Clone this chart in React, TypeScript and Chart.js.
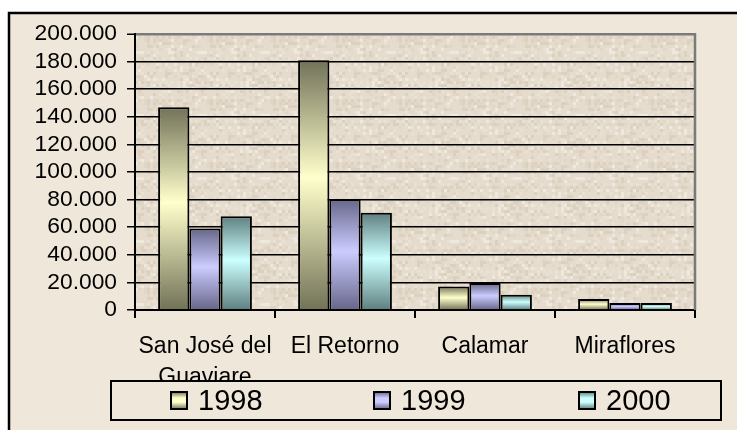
import React, { useEffect, useRef } from "react";
import { Chart, registerables } from "chart.js";

Chart.register(...registerables);

const categories: (string | string[])[] = [["San José del", "Guaviare"], "El Retorno", "Calamar", "Miraflores"];
const years = ["1998", "1999", "2000"];
const values1998 = [147000, 181000, 17000, 8000];
const values1999 = [59000, 80500, 19500, 5000];
const values2000 = [68000, 70500, 11000, 5000];
const yTicksMax = 200000;
const yTickStep = 20000;

const darkColors = ["#727258", "#66668a", "#5f7f7f"];
const lightColors = ["#ffffcc", "#ccccff", "#ccffff"];

const FONT = "'Liberation Sans', Arial, sans-serif";

function fmt(v: number): string {
  return String(v).replace(/\B(?=(\d{3})+(?!\d))/g, ".");
}

function hash(i: number, j: number): number {
  const s = Math.sin(i * 12.9898 + j * 78.233) * 43758.5453;
  return s - Math.floor(s);
}

let texture: HTMLCanvasElement | null = null;
function getTexture(): HTMLCanvasElement {
  if (texture) return texture;
  const c = document.createElement("canvas");
  c.width = 63;
  c.height = 63;
  const g = c.getContext("2d")!;
  const cell = 3;
  for (let i = 0; i < 21; i++) {
    for (let j = 0; j < 21; j++) {
      const r = hash(i, j);
      let col = "#e5dccd";
      if (r < 0.15) col = "#dcd1bf";
      else if (r < 0.28) col = "#e1d7c6";
      else if (r > 0.92) col = "#eee8de";
      else if (r > 0.82) col = "#e9e1d5";
      g.fillStyle = col;
      g.fillRect(i * cell, j * cell, cell, cell);
    }
  }
  texture = c;
  return c;
}

function barGradient(idx: number) {
  return (ctx: any) => {
    const chart = ctx.chart;
    if (ctx.type !== "data" || !chart.chartArea) return lightColors[idx];
    const y = chart.scales.y;
    const top = y.getPixelForValue(ctx.raw);
    const bottom = y.getPixelForValue(0);
    if (!isFinite(top) || !isFinite(bottom) || Math.abs(bottom - top) < 1) return lightColors[idx];
    const g = chart.ctx.createLinearGradient(0, top, 0, bottom);
    g.addColorStop(0, darkColors[idx]);
    g.addColorStop(0.47, lightColors[idx]);
    g.addColorStop(1, darkColors[idx]);
    return g;
  };
}

const backgroundPlugin = {
  id: "bgPlugin",
  beforeDraw(chart: any) {
    const { ctx, chartArea } = chart;
    ctx.save();
    ctx.fillStyle = "#ffffff";
    ctx.fillRect(0, 0, chart.width, chart.height);
    ctx.fillStyle = "#efe7d9";
    ctx.fillRect(9, 13, chart.width, chart.height);
    ctx.strokeStyle = "#000";
    ctx.lineWidth = 2.5;
    ctx.strokeRect(9, 13, chart.width + 20, chart.height + 20);
    const pat = ctx.createPattern(getTexture(), "repeat");
    ctx.fillStyle = pat || "#e5dccd";
    ctx.fillRect(chartArea.left, chartArea.top, chartArea.right - chartArea.left, chartArea.bottom - chartArea.top);
    ctx.restore();
  },
  afterDatasetsDraw(chart: any) {
    const { ctx, chartArea } = chart;
    ctx.save();
    ctx.strokeStyle = "#7a7a7a";
    ctx.lineWidth = 2.5;
    ctx.beginPath();
    ctx.moveTo(chartArea.right, chartArea.top - 1);
    ctx.lineTo(chartArea.right, chartArea.bottom);
    ctx.stroke();
    ctx.restore();
  },
};

const legendPlugin = {
  id: "boxLegend",
  afterDraw(chart: any) {
    const { ctx } = chart;
    const left = 111;
    const top = 381;
    const right = 721;
    const bottom = 420;
    ctx.save();
    ctx.fillStyle = "#efe7d9";
    ctx.fillRect(left, top, right - left, bottom - top);
    ctx.strokeStyle = "#000";
    ctx.lineWidth = 2;
    ctx.strokeRect(left, top, right - left, bottom - top);
    const starts = [171, 374, 579];
    chart.data.datasets.forEach((ds: any, i: number) => {
      const x = starts[i];
      const my = 392;
      const mh = 17;
      const mw = 16;
      const g = ctx.createLinearGradient(0, my, 0, my + mh);
      g.addColorStop(0, darkColors[i]);
      g.addColorStop(0.35, lightColors[i]);
      g.addColorStop(0.6, lightColors[i]);
      g.addColorStop(1, darkColors[i]);
      ctx.fillStyle = g;
      ctx.fillRect(x, my, mw, mh);
      ctx.strokeStyle = "#000";
      ctx.lineWidth = 2;
      ctx.strokeRect(x, my, mw, mh);
      ctx.fillStyle = "#000";
      ctx.font = `29px ${FONT}`;
      ctx.textBaseline = "alphabetic";
      ctx.textAlign = "left";
      ctx.fillText(ds.label, x + 27, 410);
    });
    ctx.restore();
  },
};

export default function App() {
  const ref = useRef<HTMLCanvasElement>(null);
  useEffect(() => {
    if (!ref.current) return;
    const datasets = [values1998, values1999, values2000].map((vals, i) => ({
      label: years[i],
      data: vals,
      backgroundColor: barGradient(i),
      borderColor: "#000",
      borderWidth: 2,
      borderSkipped: "start" as const,
      categoryPercentage: 0.67,
      barPercentage: 1.0,
    }));
    const chart = new Chart(ref.current, {
      type: "bar",
      data: { labels: categories, datasets },
      plugins: [backgroundPlugin, legendPlugin],
      options: {
        animation: false,
        responsive: false,
        devicePixelRatio: 1,
        layout: { padding: { top: 34, right: 42, left: 0, bottom: 0 } },
        plugins: {
          legend: { display: false },
          tooltip: { enabled: false },
          title: { display: false },
        },
        scales: {
          x: {
            grid: {
              display: true,
              drawOnChartArea: false,
              drawTicks: true,
              tickLength: 8,
              color: "#000",
              lineWidth: 2,
              offset: true,
            },
            border: { display: true, color: "#000", width: 2 },
            ticks: {
              color: "#000",
              font: { family: FONT, size: 23, lineHeight: 1.35 },
              padding: 13,
              maxRotation: 0,
              autoSkip: false,
            },
            afterFit: (scale: any) => {
              scale.height = 120;
            },
          },
          y: {
            min: 0,
            max: yTicksMax,
            grid: {
              color: (c: any) => (c.tick && c.tick.value === yTicksMax ? "#7a7a7a" : "#000"),
              lineWidth: (c: any) => (c.tick && c.tick.value === yTicksMax ? 2.5 : 1.5),
              tickColor: "#000",
              tickWidth: 1.5,
              tickLength: 8,
              drawTicks: true,
            },
            border: { display: true, color: "#000", width: 2 },
            ticks: {
              stepSize: yTickStep,
              autoSkip: false,
              maxTicksLimit: 20,
              color: "#000",
              font: { family: FONT, size: 22.8, lineHeight: 1 },
              padding: 10,
              callback: (v: any) => fmt(Number(v)),
            },
            afterFit: (scale: any) => {
              scale.width = 135;
            },
          },
        },
      },
    });
    return () => chart.destroy();
  }, []);
  return (
    <div style={{ position: "absolute", left: 0, top: 0, width: 737, height: 430 }}>
      <canvas ref={ref} width={737} height={430} style={{ display: "block" }} />
    </div>
  );
}
